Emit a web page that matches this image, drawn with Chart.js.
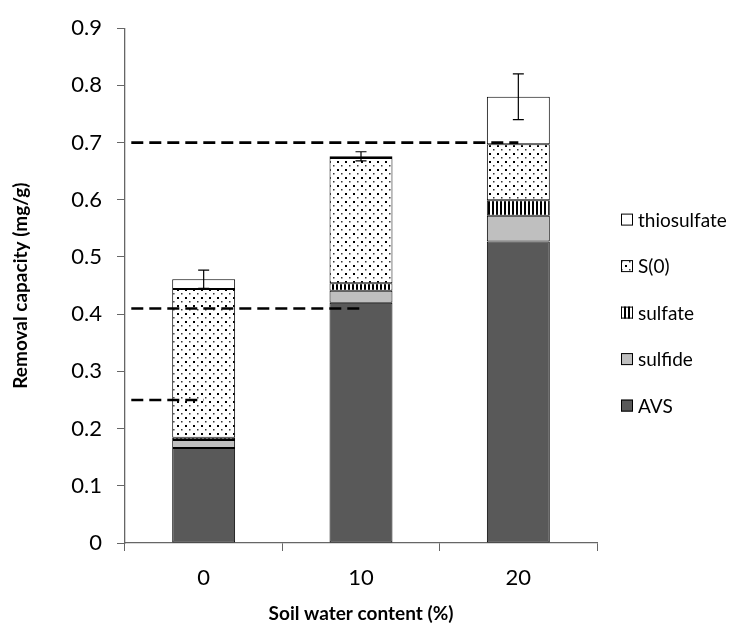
<!DOCTYPE html>
<html>
<head>
<meta charset="utf-8">
<script src="https://cdn.jsdelivr.net/npm/chart.js@4.4.1/dist/chart.umd.min.js"></script>
<style>
  html, body { margin: 0; padding: 0; background: #fff; }
  #wrap { width: 733px; height: 625px; position: relative; }
</style>
</head>
<body>
<div id="wrap"><canvas id="c" width="733" height="625"></canvas></div>
<script>
// ---- data ----
const categories = ['0', '10', '20'];
const avs = [0.166, 0.420, 0.527];
const sulfide = [0.014, 0.021, 0.045];
const sulfate = [0.004, 0.013, 0.027];
const s0 = [0.260, 0.219, 0.098];
const thiosulfate = [0.017, 0.003, 0.083];
const errPlus = [0.016, 0.008, 0.040];
const errMinus = [0.016, 0.008, 0.040];
const refLevels = [0.25, 0.41, 0.70];
const refStart = [-0.46, -0.46, -0.46];
const refEnd = [0, 1, 2];
const yTicks = [0, 0.1, 0.2, 0.3, 0.4, 0.5, 0.6, 0.7, 0.8, 0.9];

// ---- patterns ----
function makePattern(w, h, draw) {
  const c = document.createElement('canvas');
  c.width = w; c.height = h;
  const x = c.getContext('2d');
  x.fillStyle = '#fff'; x.fillRect(0, 0, w, h);
  draw(x);
  return x.createPattern(c, 'repeat');
}
const dotPattern = makePattern(8, 8, x => {
  x.fillStyle = '#000';
  x.fillRect(1, 1, 2, 2);
  x.fillStyle = '#333';
  x.fillRect(5, 5, 1.5, 1.5);
});
const stripePattern = makePattern(4, 4, x => {
  x.fillStyle = '#000';
  x.fillRect(0, 0, 2, 4);
});

const FONT = 'Lato, "Open Sans", sans-serif';

const errorBars = {
  id: 'errorBars',
  afterDatasetsDraw(chart) {
    const {ctx, scales: {x, y}} = chart;
    ctx.save();
    ctx.strokeStyle = '#000';
    ctx.lineWidth = 1.2;
    categories.forEach((c, i) => {
      let total = 0;
      chart.data.datasets.forEach(ds => total += ds.data[i]);
      const px = x.getPixelForValue(i);
      const yt = y.getPixelForValue(total + errPlus[i]);
      const yb = y.getPixelForValue(total - errMinus[i]);
      const cap = 5.5;
      ctx.beginPath();
      ctx.moveTo(px, yt); ctx.lineTo(px, yb);
      ctx.moveTo(px - cap, yt); ctx.lineTo(px + cap, yt);
      ctx.moveTo(px - cap, yb); ctx.lineTo(px + cap, yb);
      ctx.stroke();
    });
    // reference dashed lines
    ctx.lineWidth = 2.6;
    ctx.setLineDash([12, 6]);
    refLevels.forEach((v, k) => {
      const py = y.getPixelForValue(v);
      ctx.beginPath();
      ctx.moveTo(x.getPixelForValue(refStart[k]), py);
      ctx.lineTo(x.getPixelForValue(refEnd[k]), py);
      ctx.stroke();
    });
    ctx.restore();
  }
};

const customLegend = {
  id: 'customLegend',
  afterDraw(chart) {
    const {ctx, chartArea} = chart;
    const ds = chart.data.datasets.slice().reverse();
    const step = 46.5;
    const cy = (chartArea.top + chartArea.bottom) / 2 + 27;
    const y0 = cy - step * (ds.length - 1) / 2;
    const bx = chartArea.right + 24;
    const box = 12;
    ctx.save();
    ctx.font = '19px ' + FONT;
    ctx.textBaseline = 'middle';
    ctx.textAlign = 'left';
    ds.forEach((d, k) => {
      const yy = y0 + k * step;
      ctx.fillStyle = d.backgroundColor;
      ctx.fillRect(bx, yy - box / 2, box, box);
      ctx.strokeStyle = '#000';
      ctx.lineWidth = 1;
      ctx.strokeRect(bx + 0.5, yy - box / 2 + 0.5, box - 1, box - 1);
      ctx.fillStyle = '#000';
      ctx.fillText(d.label, bx + box + 5, yy + 1);
    });
    ctx.restore();
  }
};

const common = { borderColor: '#000', borderWidth: 1, borderSkipped: false, barPercentage: 0.4, categoryPercentage: 1 };

new Chart(document.getElementById('c'), {
  type: 'bar',
  data: {
    labels: categories,
    datasets: [
      Object.assign({ label: 'AVS', data: avs, backgroundColor: '#595959' }, common),
      Object.assign({ label: 'sulfide', data: sulfide, backgroundColor: '#bfbfbf' }, common),
      Object.assign({ label: 'sulfate', data: sulfate, backgroundColor: stripePattern }, common),
      Object.assign({ label: 'S(0)', data: s0, backgroundColor: dotPattern }, common),
      Object.assign({ label: 'thiosulfate', data: thiosulfate, backgroundColor: '#ffffff' }, common)
    ]
  },
  options: {
    responsive: false,
    animation: false,
    devicePixelRatio: 1,
    layout: { padding: { left: 0, right: 136, top: 23, bottom: 0 } },
    plugins: { legend: { display: false }, tooltip: { enabled: false } },
    scales: {
      x: {
        stacked: true,
        grid: { display: true, drawOnChartArea: false, drawTicks: true, tickLength: 8, color: '#666', offset: true },
        border: { display: true, color: '#666', width: 1.3 },
        ticks: { color: '#000', font: { family: FONT, size: 22 }, padding: 14 },
        title: { display: true, text: 'Soil water content (%)', color: '#000', font: { family: FONT, size: 19, weight: 'bold' }, padding: { top: 0, bottom: 0 } },
        afterFit(s) { s.height = 82; }
      },
      y: {
        stacked: true,
        min: 0, max: 0.9,
        afterBuildTicks(s) { s.ticks = yTicks.map(v => ({ value: v })); },
        grid: { display: true, drawOnChartArea: false, drawTicks: true, tickLength: 8, color: '#666' },
        border: { display: true, color: '#666', width: 1.3 },
        ticks: { color: '#000', font: { family: FONT, size: 22 }, padding: 15,
          callback: v => String(Math.round(v * 10) / 10) },
        title: { display: true, text: 'Removal capacity (mg/g)', color: '#000', font: { family: FONT, size: 19, weight: 'bold' }, padding: { top: 9, bottom: 0 } },
        afterFit(s) { s.width = 125; }
      }
    }
  },
  plugins: [errorBars, customLegend]
});
</script>
</body>
</html>
